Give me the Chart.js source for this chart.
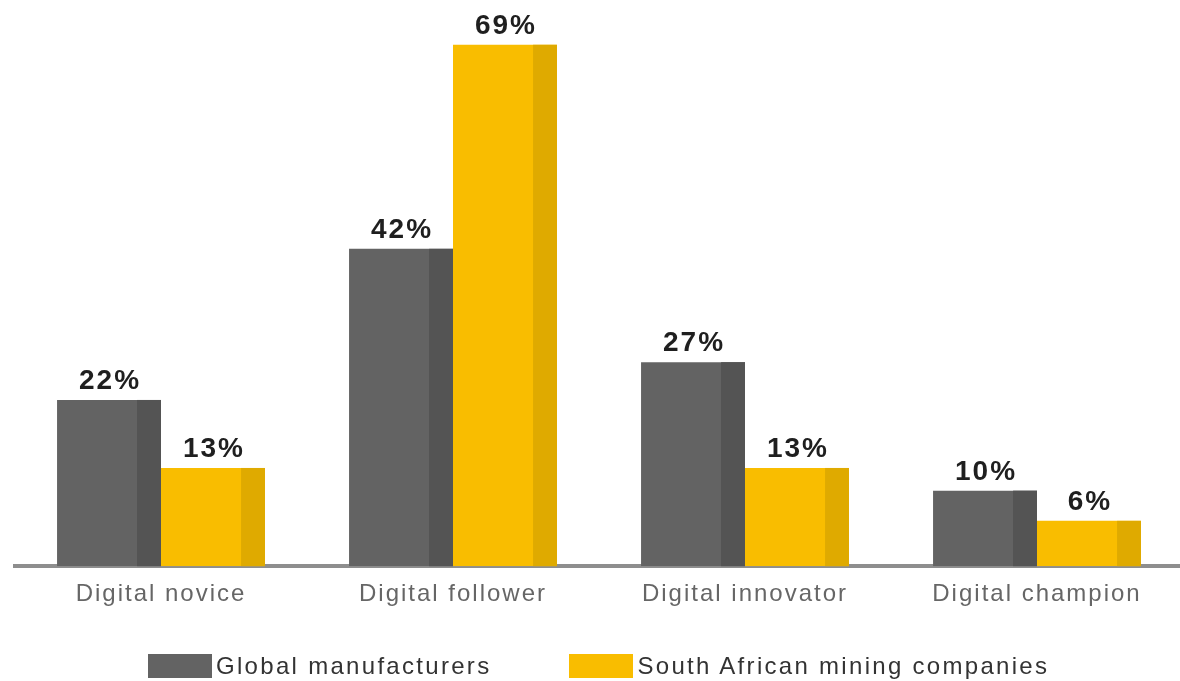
<!DOCTYPE html>
<html>
<head>
<meta charset="utf-8">
<script src="https://cdn.jsdelivr.net/npm/chart.js@4.4.1/dist/chart.umd.min.js"></script>
<style>
  html, body { margin: 0; padding: 0; background: #fff; overflow: hidden; }
  #wrap { position: relative; width: 1183px; height: 681px; }
  #c { display: block; }
  #legend {
    position: absolute; left: 148px; top: 654px; display: flex; align-items: center;
    font-family: "Liberation Sans", Arial, sans-serif; font-size: 24px; color: #333;
    letter-spacing: 2.3px; line-height: 24px;
  }
  #legend .item { display: flex; align-items: center; margin-right: 78px; }
  #legend .sw { width: 64px; height: 24px; margin-right: 4px; }
</style>
</head>
<body>
<div id="wrap">
  <canvas id="c" width="1183" height="681"></canvas>
  <div id="legend"></div>
</div>
<script>
const categories = ['Digital novice', 'Digital follower', 'Digital innovator', 'Digital champion'];
const globalManufacturers = [22, 42, 27, 10];
const saMining = [13, 69, 13, 6];
const seriesNames = ['Global manufacturers', 'South African mining companies'];

const GREY = '#636363', GREY_DARK = '#545454';
const YELLOW = '#f9bd00', YELLOW_DARK = '#dfaa00';
const FONT = '"Liberation Sans", Arial, sans-serif';

// wide tracking for the axis labels
const tracking = {
  id: 'tracking',
  beforeDraw(chart) { chart.ctx.letterSpacing = '2px'; },
};

// darker strip on the right edge of each bar, then the value above it
const barDecor = {
  id: 'barDecor',
  afterDatasetsDraw(chart) {
    const ctx = chart.ctx;
    chart.data.datasets.forEach((ds, di) => {
      chart.getDatasetMeta(di).data.forEach((bar, i) => {
        const w = bar.width;
        const right = bar.x + w / 2;
        const strip = w * 0.23;
        ctx.save();
        ctx.fillStyle = ds.stripColor;
        ctx.fillRect(right - strip, bar.y, strip, bar.base - bar.y);
        ctx.fillStyle = '#1f1f1f';
        ctx.font = 'bold 28px ' + FONT;
        ctx.letterSpacing = '2px';
        ctx.textAlign = 'center';
        ctx.textBaseline = 'alphabetic';
        ctx.fillText(ds.data[i] + '%', bar.x + 1, bar.y - 11);
        ctx.restore();
      });
    });
  },
};

const chart = new Chart(document.getElementById('c'), {
  type: 'bar',
  data: {
    labels: categories,
    datasets: [
      { label: seriesNames[0], data: globalManufacturers, backgroundColor: GREY, stripColor: GREY_DARK },
      { label: seriesNames[1], data: saMining, backgroundColor: YELLOW, stripColor: YELLOW_DARK },
    ],
  },
  options: {
    responsive: false,
    animation: false,
    devicePixelRatio: 1,
    layout: { padding: { left: 15, right: 0, top: 7, bottom: 58 } },
    datasets: { bar: { categoryPercentage: 0.712, barPercentage: 1, borderWidth: 0 } },
    plugins: { legend: { display: false }, tooltip: { enabled: false } },
    scales: {
      x: {
        grid: { display: false, drawTicks: false },
        border: { display: true, color: '#8e8e8e', width: 4 },
        ticks: { color: '#666', padding: 14, autoSkip: false, maxRotation: 0, font: { family: FONT, size: 24 } },
      },
      y: { display: false, min: 0, max: 74 },
    },
  },
  plugins: [tracking, barDecor],
});

// legend
const legendEl = document.getElementById('legend');
[[seriesNames[0], GREY], [seriesNames[1], YELLOW]].forEach(([name, col]) => {
  const item = document.createElement('div');
  item.className = 'item';
  item.innerHTML = `<span class="sw" style="background:${col}"></span><span>${name}</span>`;
  legendEl.appendChild(item);
});
</script>
</body>
</html>
